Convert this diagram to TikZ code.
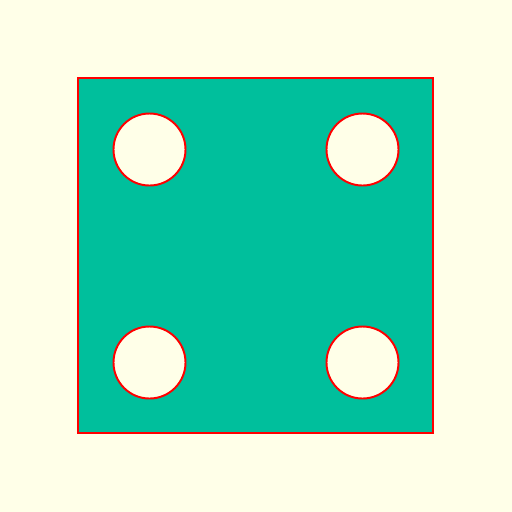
\documentclass[tikz,border=0pt]{standalone}
\definecolor{paper}{RGB}{255,255,232}
\definecolor{plate}{RGB}{0,191,156}
\begin{document}
\begin{tikzpicture}[x=0.02cm,y=-0.02cm]
\tikzset{
  platebody/.style={fill=plate,draw=red,line width=1.1pt,even odd rule},
  holeedge/.style={draw=red,line width=1.1pt}
}
\fill[paper] (0,0) rectangle (512,512);
\useasboundingbox (0,0) rectangle (512,512);
\path[platebody] (78,78) rectangle (433,433)
  (149.5,149.5) circle[radius=36]
  (362.5,149.5) circle[radius=36]
  (149.5,362.5) circle[radius=36]
  (362.5,362.5) circle[radius=36];
\end{tikzpicture}
\end{document}
